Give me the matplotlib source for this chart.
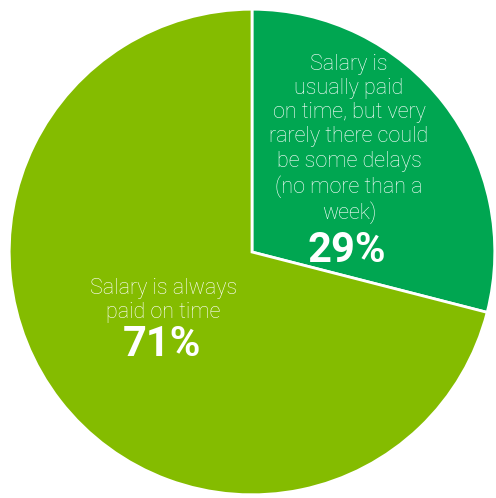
import matplotlib.pyplot as plt

labels = ["Salary is always\npaid on time",
          "Salary is\nusually paid\non time, but very\nrarely there could\nbe some delays\n(no more than a\nweek)"]
shares = [71, 29]
colors = ["#84bc00", "#00a651"]

fig = plt.figure(figsize=(4.96, 4.98), dpi=100)
ax = fig.add_axes([8 / 496, 1 / 498, 488 / 496, 490 / 498])

# 29% slice starts at 12 o'clock and runs clockwise
ax.pie(shares[::-1], colors=colors[::-1], startangle=90, counterclock=False,
       radius=1, wedgeprops=dict(edgecolor="white", linewidth=2))
ax.set_xlim(-1.005, 1.005)
ax.set_ylim(-1.005, 1.005)
ax.set_aspect("equal")
ax.axis("off")

txt = dict(color="white", ha="center", va="center", family="Roboto")
ax.text(0.40, 0.465, labels[1], fontsize=15.5, fontweight="light", linespacing=1.2, **txt)
ax.text(0.39, 0.005, f"{shares[1]}%", fontsize=30, fontweight="bold", **txt)
ax.text(-0.365, -0.20, labels[0], fontsize=15.5, fontweight="light", linespacing=1.2, **txt)
ax.text(-0.369, -0.383, f"{shares[0]}%", fontsize=30, fontweight="bold", **txt)

fig.savefig("out.png", dpi=100)
